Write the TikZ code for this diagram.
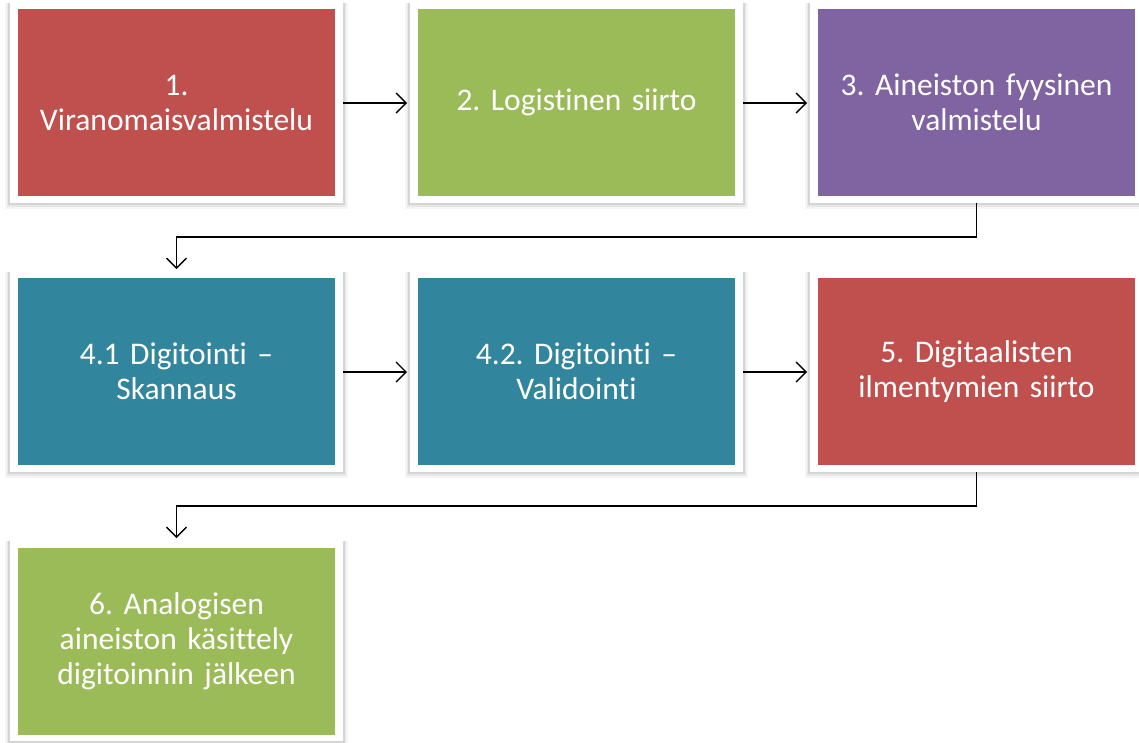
\documentclass[tikz,border=0pt]{standalone}
\usepackage{fontspec}
\setmainfont{Carlito}[Ligatures={NoCommon}]
\usetikzlibrary{arrows.meta,shadows}
\definecolor{cred}{HTML}{C0504D}
\definecolor{cgreen}{HTML}{9BBB59}
\definecolor{cpurple}{HTML}{8064A2}
\definecolor{cteal}{HTML}{31859C}
\tikzset{
  frame/.style={draw=none, fill=white, minimum width=333pt, minimum height=200pt,
    inner sep=0pt, outer sep=0pt,
    general shadow={fill=black, opacity=0.04, shadow xshift=0pt, shadow yshift=-3pt, shadow scale=1.03},
    general shadow={fill=black, opacity=0.06, shadow xshift=0pt, shadow yshift=-2pt, shadow scale=1.02},
    general shadow={fill=black, opacity=0.08, shadow xshift=0pt, shadow yshift=-1pt, shadow scale=1.01}},
  inner/.style={fill=#1, draw=none, minimum width=317pt, minimum height=187pt,
    inner sep=0pt, text=white, align=center, text width=310pt,
    font=\fontsize{31.5}{35}\selectfont},
  arr/.style={draw=black, line width=1.4pt, -{Straight Barb[length=10pt,width=20pt,line width=1.4pt]}, shorten >=3pt}
}
\begin{document}
\frenchspacing
\begin{tikzpicture}[x=1pt,y=1pt]
\useasboundingbox (0,0) rectangle (1139,-742);
\clip (0,0) rectangle (1139,-742);
% row 1
\node[frame] (f1) at (176.5,-103) {};
\node[frame] (f2) at (576.5,-103) {};
\node[frame] (f3) at (976.5,-103) {};
\node[inner=cred] (b1) at (176.5,-102.5) {1.\\Viranomaisvalmistelu};
\node[inner=cgreen] (b2) at (576.5,-102.5) {2. Logistinen siirto};
\node[inner=cpurple] (b3) at (976.5,-102.5) {3. Aineiston fyysinen\\valmistelu};
% row 2
\node[frame] (f4) at (176.5,-372) {};
\node[frame] (f5) at (576.5,-372) {};
\node[frame] (f6) at (976.5,-372) {};
\node[inner=cteal] (b4) at (176.5,-371.5) {4.1 Digitointi --\\Skannaus};
\node[inner=cteal] (b5) at (576.5,-371.5) {4.2. Digitointi --\\Validointi};
\node[inner=cred] (b6) at (976.5,-371.5) {5. Digitaalisten\\ilmentymien siirto};
% row 3
\node[frame] (f7) at (176.5,-641) {};
\node[inner=cgreen] (b7) at (176.5,-641.5) {6. Analogisen\\aineiston käsittely\\digitoinnin jälkeen};
% connectors
\draw[arr] (f1.east) -- (f2.west);
\draw[arr] (f2.east) -- (f3.west);
\draw[arr] (f4.east) -- (f5.west);
\draw[arr] (f5.east) -- (f6.west);
\draw[arr] (f3.south) -- ++(0,-34) -| (f4.north);
\draw[arr] (f6.south) -- ++(0,-34) -| (f7.north);
\end{tikzpicture}
\end{document}
